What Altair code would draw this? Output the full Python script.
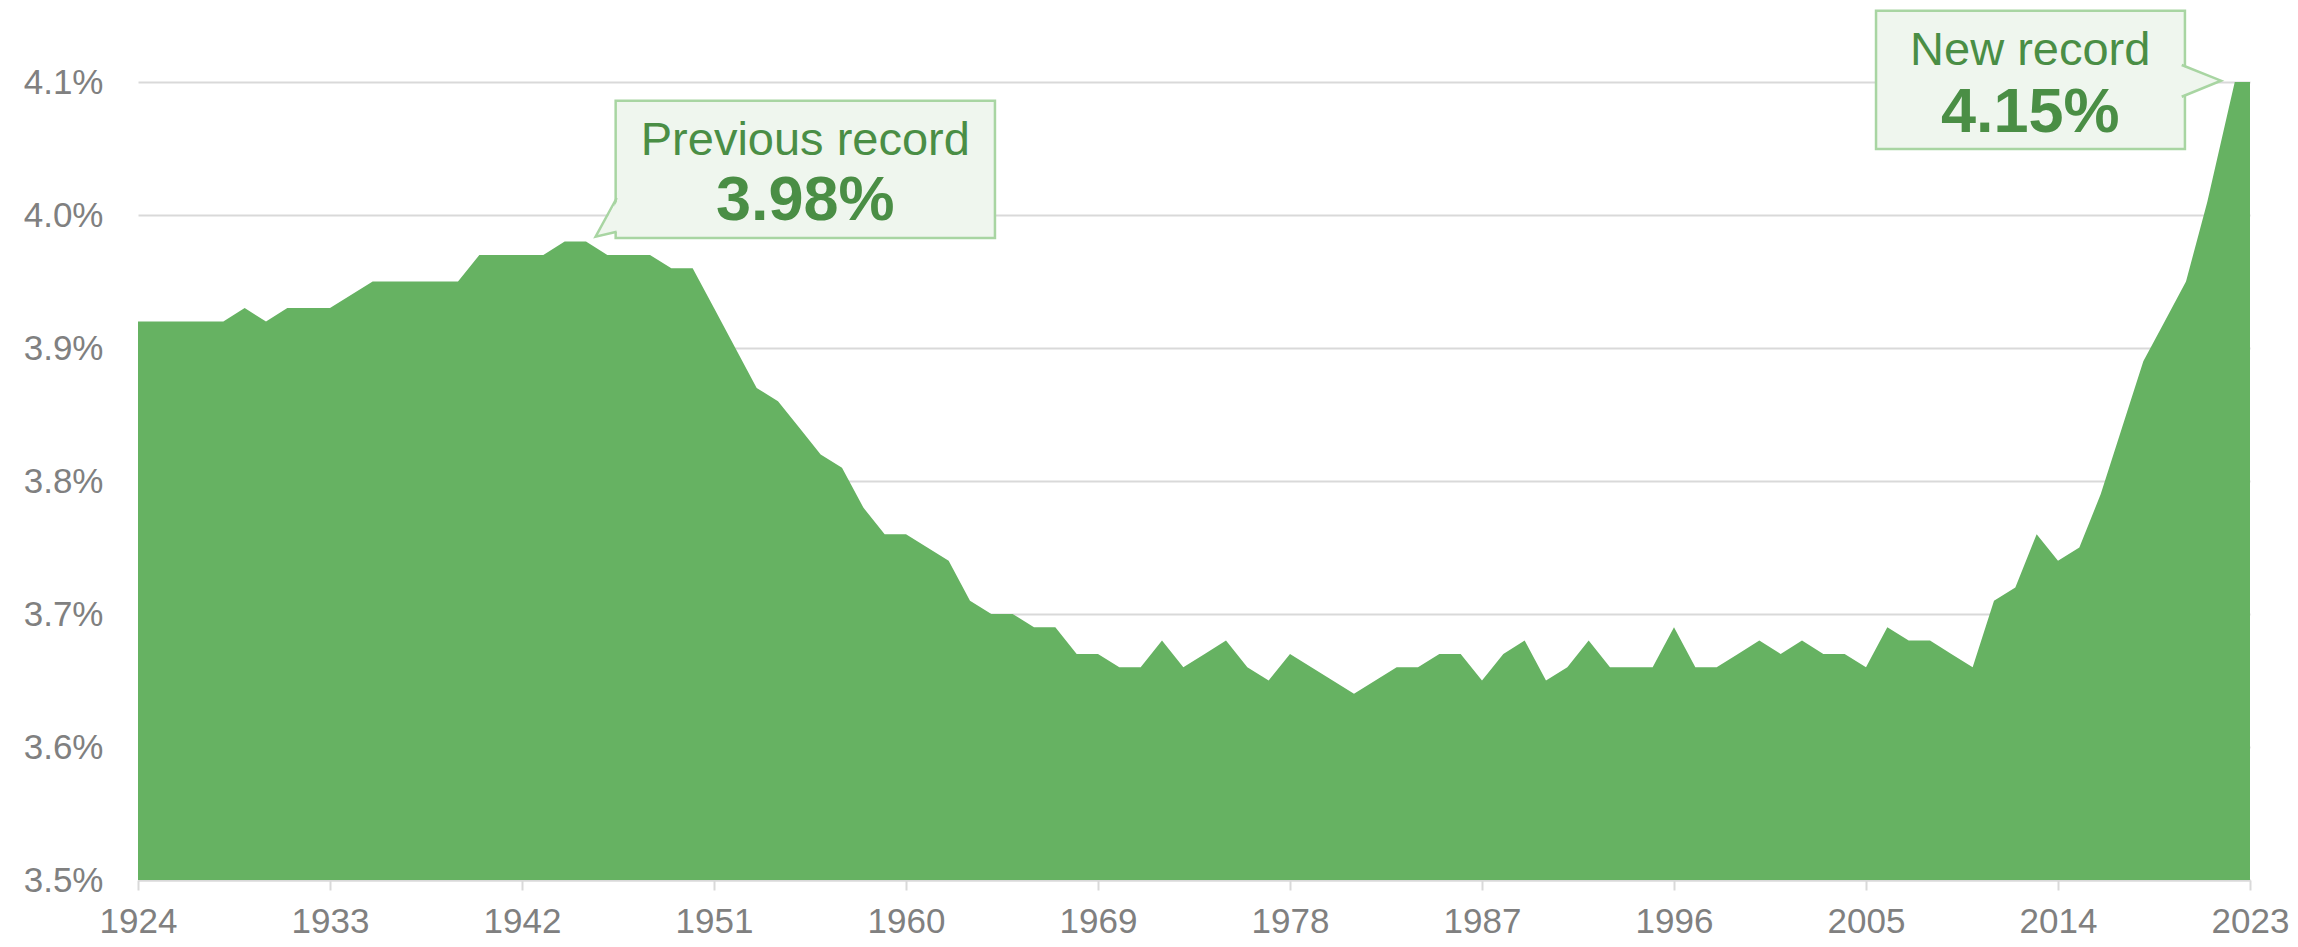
import altair as alt
import pandas as pd

# ---- data ----
years = list(range(1924, 2024))
values = [
    3.92, 3.92, 3.92, 3.92, 3.92, 3.93, 3.92, 3.93, 3.93, 3.93,   # 1924-1933
    3.94, 3.95, 3.95, 3.95, 3.95, 3.95, 3.97, 3.97, 3.97, 3.97,   # 1934-1943
    3.98, 3.98, 3.97, 3.97, 3.97, 3.96, 3.96, 3.93, 3.90, 3.87,   # 1944-1953
    3.86, 3.84, 3.82, 3.81, 3.78, 3.76, 3.76, 3.75, 3.74, 3.71,   # 1954-1963
    3.70, 3.70, 3.69, 3.69, 3.67, 3.67, 3.66, 3.66, 3.68, 3.66,   # 1964-1973
    3.67, 3.68, 3.66, 3.65, 3.67, 3.66, 3.65, 3.64, 3.65, 3.66,   # 1974-1983
    3.66, 3.67, 3.67, 3.65, 3.67, 3.68, 3.65, 3.66, 3.68, 3.66,   # 1984-1993
    3.66, 3.66, 3.69, 3.66, 3.66, 3.67, 3.68, 3.67, 3.68, 3.67,   # 1994-2003
    3.67, 3.66, 3.69, 3.68, 3.68, 3.67, 3.66, 3.71, 3.72, 3.76,   # 2004-2013
    3.74, 3.75, 3.79, 3.84, 3.89, 3.92, 3.95, 4.01, 4.08, 4.15,   # 2014-2023
]
x_tick_years = [1924, 1933, 1942, 1951, 1960, 1969, 1978, 1987, 1996, 2005, 2014, 2023]
y_tick_values = [3.5, 3.6, 3.7, 3.8, 3.9, 4.0, 4.1]

# annotation callouts (data coordinates)
ann_labels = ["Previous record", "New record"]
ann_values = ["3.98%", "4.15%"]
box_x = [1946.39, 2005.47]
box_x2 = [1964.17, 2019.95]
box_y = [4.0859, 4.1536]
box_y2 = [3.9827, 4.0496]
label_x = [1955.28, 2012.70]
label_y = [4.0451, 4.1128]
value_y = [3.9962, 4.0626]
# pointer: tip + base top/bottom on the box edge
ptr_tip_x = [1945.45, 2021.64]
ptr_tip_y = [3.9837, 4.1010]
ptr_base_x = [1946.44, 2019.80]
ptr_base_top = [4.0128, 4.1128]
ptr_base_bot = [3.9874, 4.0889]

GREEN = "#66B262"
DARK = "#4A8E45"
BOX_FILL = "#EFF6EE"
BOX_STROKE = "#A8D5A2"
GRID = "#D9D9D9"
LABEL = "#808080"
FONT = "Liberation Sans"

df = pd.DataFrame({"year": years, "value": values, "base": [3.5] * len(years)})

x_scale = alt.Scale(domain=[1924, 2023], nice=False, zero=False)
y_scale = alt.Scale(domain=[3.5, 4.1], nice=False, zero=False)

x_axis = alt.Axis(
    values=x_tick_years, format="d", title=None, grid=False,
    domainColor=GRID, domainWidth=2, tickColor=GRID, tickWidth=2, tickSize=10,
    labelFontSize=35, labelColor=LABEL, labelFont=FONT, labelPadding=14,
    labelFlush=False, labelOverlap=False)
y_axis = alt.Axis(
    values=y_tick_values, labelExpr="format(datum.value, '.1f') + '%'",
    title=None, grid=True, gridColor=GRID, gridWidth=2, domain=False, ticks=False,
    labelFontSize=35, labelColor=LABEL, labelFont=FONT, labelPadding=35)


def X(field):
    return alt.X(field, scale=x_scale, axis=x_axis, title=None)


def Y(field):
    return alt.Y(field, scale=y_scale, axis=y_axis, title=None)


area = alt.Chart(df).mark_area(color=GREEN, opacity=1, clip=True, interpolate="linear").encode(
    x=X("year:Q"),
    y=Y("value:Q"),
    y2=alt.Y2("base:Q"),
)

ann = pd.DataFrame({
    "label": ann_labels, "val": ann_values,
    "bx": box_x, "bx2": box_x2, "by": box_y, "by2": box_y2,
    "lx": label_x, "ly": label_y, "vy": value_y,
})

boxes = alt.Chart(ann).mark_rect(fill=BOX_FILL, stroke=BOX_STROKE, strokeWidth=2.5).encode(
    x=X("bx:Q"), x2="bx2:Q", y=Y("by:Q"), y2="by2:Q",
)

layers = [area, boxes]

for i in range(2):
    inward = 0.12 if ptr_base_x[i] > ptr_tip_x[i] else -0.12
    tri = pd.DataFrame({
        "px": [ptr_tip_x[i], ptr_base_x[i] + inward],
        "py": [ptr_tip_y[i], ptr_base_top[i]],
        "py2": [ptr_tip_y[i], ptr_base_bot[i]],
    })
    layers.append(alt.Chart(tri).mark_area(color=BOX_FILL, opacity=1).encode(
        x=X("px:Q"), y=Y("py:Q"), y2="py2:Q",
    ))
    edge = pd.DataFrame({
        "ex": [ptr_base_x[i], ptr_tip_x[i], ptr_base_x[i]],
        "ey": [ptr_base_top[i], ptr_tip_y[i], ptr_base_bot[i]],
        "o": [0, 1, 2],
    })
    layers.append(alt.Chart(edge).mark_line(color=BOX_STROKE, strokeWidth=2.5).encode(
        x=X("ex:Q"), y=Y("ey:Q"), order="o:Q",
    ))

labels = alt.Chart(ann).mark_text(font=FONT, fontSize=47, color=DARK, align="center",
                                  baseline="alphabetic").encode(
    x=X("lx:Q"), y=Y("ly:Q"), text="label:N",
)
vals = alt.Chart(ann).mark_text(font=FONT, fontSize=63, fontWeight="bold", color=DARK,
                                align="center", baseline="alphabetic").encode(
    x=X("lx:Q"), y=Y("vy:Q"), text="val:N",
)
layers += [labels, vals]

chart = alt.layer(*layers).properties(
    width=2112, height=798,
    autosize=alt.AutoSizeParams(type="none"),
    padding={"left": 130, "top": 74, "right": 40, "bottom": 59},
    background="white",
).configure_view(stroke=None)

chart.save("out.html", embed_options={"renderer": "svg", "actions": False})
